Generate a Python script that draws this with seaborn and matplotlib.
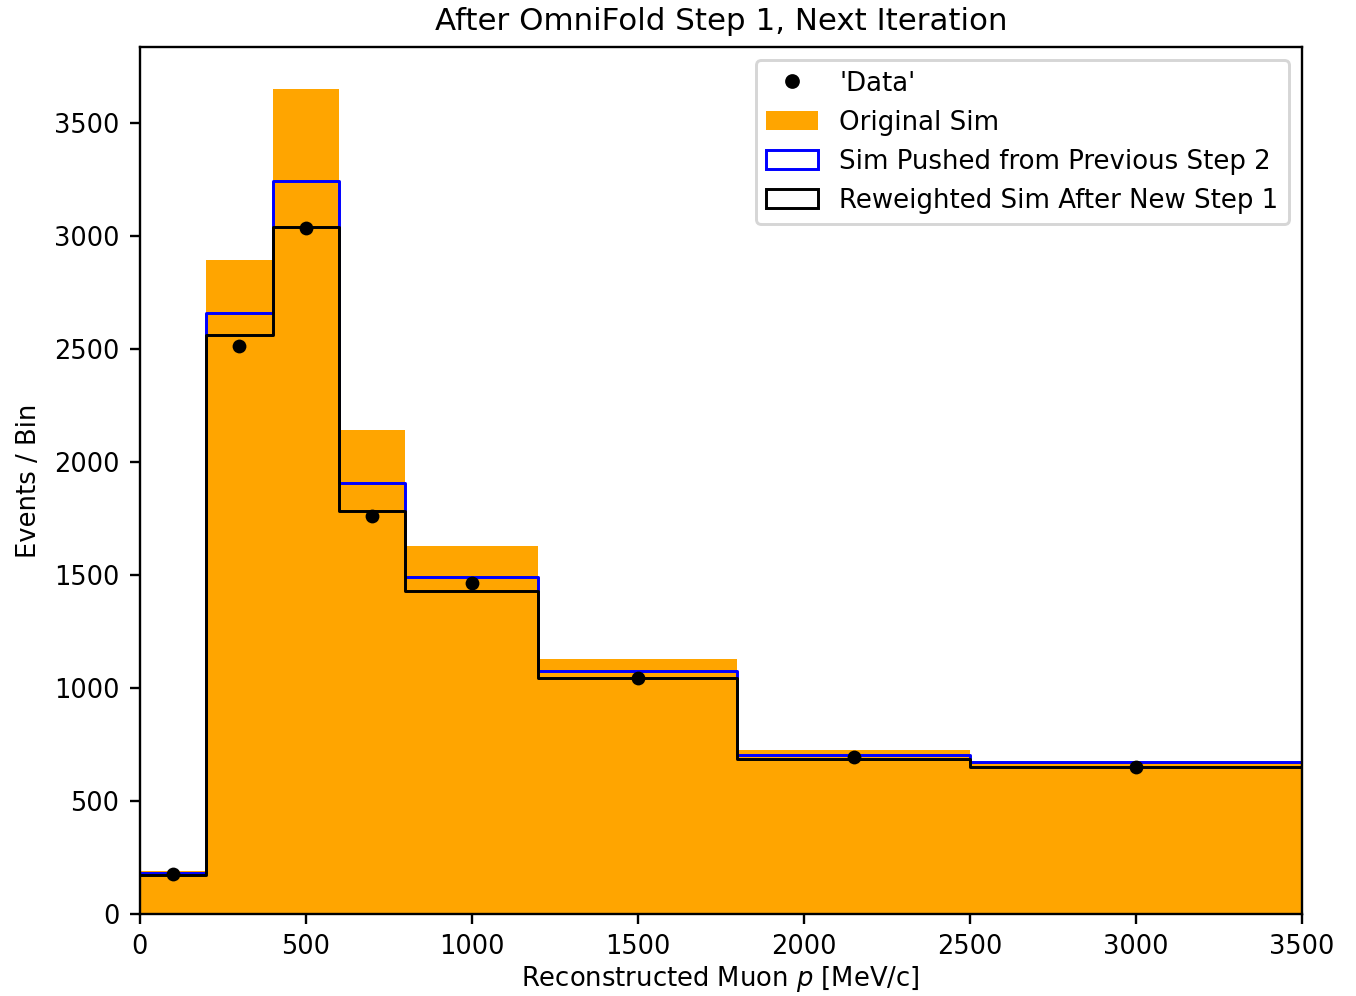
import matplotlib
matplotlib.use("Agg")
import matplotlib.pyplot as plt
from matplotlib.patches import Patch
from matplotlib.lines import Line2D
import numpy as np
import seaborn as sb

# bin edges in reconstructed muon momentum [MeV/c]
bin_edges = [0, 200, 400, 600, 800, 1200, 1800, 2500, 3500]
bin_centers = [100, 300, 500, 700, 1000, 1500, 2150, 3000]

# events per bin
original_sim = [190, 2893, 3650, 2140, 1630, 1130, 727, 670]
pushed_sim = [180, 2658, 3243, 1905, 1493, 1077, 705, 672]
reweighted_sim = [172, 2561, 3039, 1781, 1427, 1046, 687, 651]
data_points = [177, 2512, 3035, 1759, 1466, 1046, 696, 651]

plt.rcParams["font.size"] = 8.7

fig = plt.figure(figsize=(6.4, 4.7), dpi=212)
ax = fig.add_axes([0.103, 0.0823, 0.8565, 0.87])

sb.histplot(x=bin_centers, weights=original_sim, bins=bin_edges, element="bars",
            color="orange", alpha=1, linewidth=0, ax=ax)
sb.histplot(x=bin_centers, weights=pushed_sim, bins=bin_edges, element="step",
            fill=False, color="blue", linewidth=1, ax=ax)
sb.histplot(x=bin_centers, weights=reweighted_sim, bins=bin_edges, element="step",
            fill=False, color="black", linewidth=1, ax=ax)
sb.scatterplot(x=bin_centers, y=data_points, color="black", s=22, linewidth=0, ax=ax, zorder=5)

ax.set_xlim(0, 3500)
ax.set_ylim(0, 3835)
ax.tick_params(axis="x", pad=3)
ax.set_xlabel("Reconstructed Muon $p$ [MeV/c]", fontsize=8.8, labelpad=1.5)
ax.set_ylabel("Events / Bin", fontsize=8.8)
ax.set_title("After OmniFold Step 1, Next Iteration", fontsize=10.5)

handles = [
    Line2D([], [], marker="o", color="black", linestyle="none", markersize=4),
    Patch(facecolor="orange"),
    Patch(facecolor="none", edgecolor="blue"),
    Patch(facecolor="none", edgecolor="black"),
]
labels = ["'Data'", "Original Sim", "Sim Pushed from Previous Step 2", "Reweighted Sim After New Step 1"]
ax.legend(handles, labels, loc="upper right", fontsize=8.85)

fig.savefig("out.png", dpi=212)
